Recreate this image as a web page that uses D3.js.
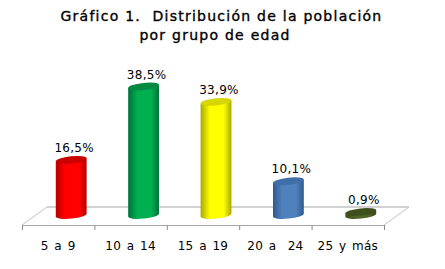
<!DOCTYPE html>
<html>
<head>
<meta charset="utf-8">
<script src="https://cdn.jsdelivr.net/npm/d3@7"></script>
<style>
  html, body { margin: 0; padding: 0; background: #fff; }
  text { font-family: "DejaVu Sans", sans-serif; fill: #000; white-space: pre; }
</style>
</head>
<body>
<div id="chart"></div>
<script>
const titleLines = ['Gráfico 1.  Distribución de la población', 'por grupo de edad'];
const categories = ['5 a 9', '10 a 14', '15 a 19', '20 a  24', '25 y más'];
const values = [16.5, 38.5, 33.9, 10.1, 0.9];
const valueLabels = ['16,5%', '38,5%', '33,9%', '10,1%', '0,9%'];
const bodyColors = ['#ff0000', '#00b050', '#ffff00', '#4f81bd', '#4f6228'];
const edgeColors = ['#b80000', '#00703a', '#a8a800', '#2f5a90', '#3a4a1c'];
const topColors = ['#c80000', '#008a42', '#d6d600', '#3f6ea8', '#3f4f1e'];

const width = 445, height = 269;
const depthX = 25, depthY = 18;   // floor offset from front axis to back wall
const barShift = 13;              // bars stand halfway into the floor
const rx = 15.5, ry = 3.6, tilt = -6;

const svg = d3.select('#chart').append('svg')
    .attr('width', width)
    .attr('height', height)
    .style('display', 'block');

const x = d3.scaleBand().domain(categories).range([22, 384]);
const y = d3.scaleLinear().domain([0, 38.5]).range([215, 86.5]);
const axisY = 225;

// cylinder shading
const defs = svg.append('defs');
categories.forEach((c, i) => {
    const grad = defs.append('linearGradient').attr('id', 'cyl' + i);
    grad.append('stop').attr('offset', '0%').attr('stop-color', edgeColors[i]);
    grad.append('stop').attr('offset', '30%').attr('stop-color', bodyColors[i]);
    grad.append('stop').attr('offset', '75%').attr('stop-color', bodyColors[i]);
    grad.append('stop').attr('offset', '100%').attr('stop-color', edgeColors[i]);
});

// title
svg.append('g').selectAll('text')
    .data(titleLines)
    .join('text')
    .attr('x', (d, i) => i === 0 ? 221.5 : 215)
    .attr('y', (d, i) => 21 + i * 19)
    .attr('text-anchor', 'middle')
    .style('font-size', '14px')
    .style('letter-spacing', '1.25px')
    .style('stroke', '#000')
    .style('stroke-width', '0.35px')
    .text(d => d);

// floor
const floorLine = '#c4c4c4';
const floor = svg.append('g');
floor.append('line')
    .attr('x1', x.range()[0] + depthX).attr('x2', x.range()[1] + depthX)
    .attr('y1', axisY - depthY).attr('y2', axisY - depthY)
    .attr('stroke', floorLine).attr('stroke-width', 1.5);
x.range().forEach(px => {
    floor.append('line')
        .attr('x1', px).attr('x2', px + depthX)
        .attr('y1', axisY).attr('y2', axisY - depthY)
        .attr('stroke', floorLine);
});

// axis, ticks sit on the band edges
const axis = svg.append('g').attr('transform', `translate(0,${axisY})`)
    .call(d3.axisBottom(x).tickSize(0).tickPadding(16));
axis.select('.domain').attr('stroke', '#a6a6a6');
axis.selectAll('text')
    .style('font-size', '12px')
    .style('letter-spacing', '0.3px')
    .style('word-spacing', '1.5px')
    .attr('font-family', null);
axis.selectAll('.edge')
    .data(categories.map(c => x(c)).concat(x.range()[1]))
    .join('line')
    .attr('class', 'edge')
    .attr('x1', d => d + 0.5).attr('x2', d => d + 0.5)
    .attr('y1', 0).attr('y2', 5)
    .attr('stroke', '#8c8c8c');

// bars
const dx = rx * Math.cos(tilt * Math.PI / 180);
const dy = rx * Math.sin(tilt * Math.PI / 180);
const bars = svg.append('g').selectAll('g')
    .data(categories)
    .join('g')
    .attr('transform', c => `translate(${x(c) + x.bandwidth() / 2 + barShift},0)`);

bars.append('path')
    .attr('d', (c, i) => {
        const top = y(values[i]), base = y(0);
        return `M${-dx},${top - dy}L${-dx},${base - dy}` +
            `A${rx},${ry} ${tilt} 0 0 ${dx},${base + dy}` +
            `L${dx},${top + dy}Z`;
    })
    .attr('fill', (c, i) => `url(#cyl${i})`);

bars.append('ellipse')
    .attr('rx', rx).attr('ry', ry)
    .attr('transform', (c, i) => `translate(0,${y(values[i])}) rotate(${tilt})`)
    .attr('fill', (c, i) => topColors[i]);

bars.append('text')
    .attr('x', 3)
    .attr('y', (c, i) => y(values[i]) - 8)
    .attr('text-anchor', 'middle')
    .style('font-size', '12px')
    .style('letter-spacing', '0.3px')
    .text((c, i) => valueLabels[i]);
</script>
</body>
</html>
